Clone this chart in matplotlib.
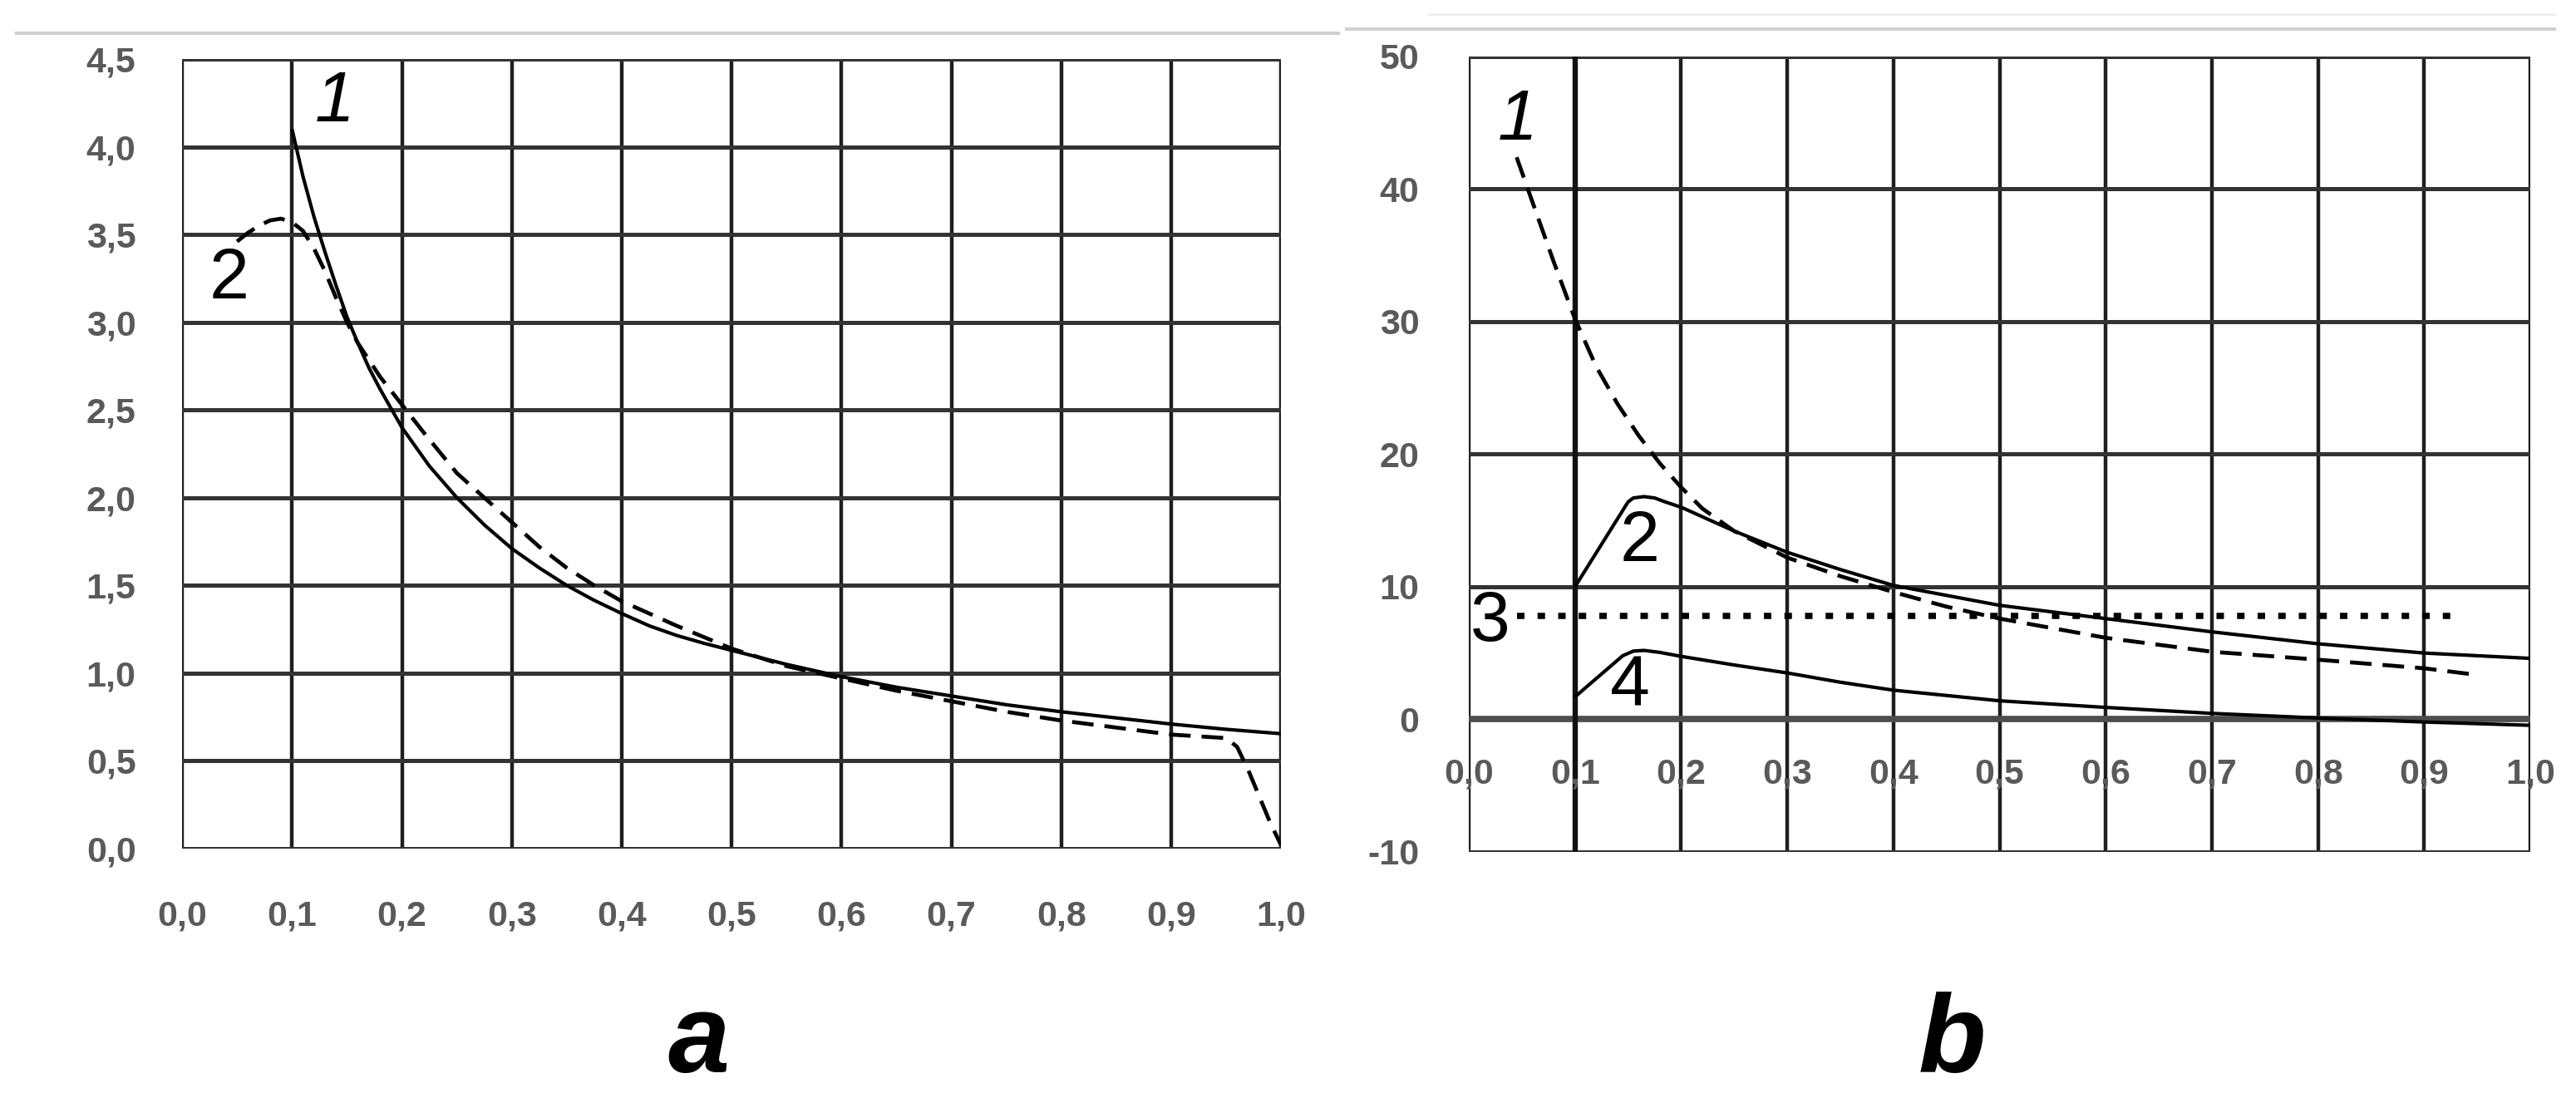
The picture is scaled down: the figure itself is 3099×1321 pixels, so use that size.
import matplotlib
matplotlib.use("Agg")
import matplotlib.pyplot as plt
from matplotlib.lines import Line2D
from matplotlib.transforms import offset_copy

plt.rcParams['font.family'] = ['Liberation Sans', 'DejaVu Sans']

# ---- panel a data ----
a_x_ticks = [0.0, 0.1, 0.2, 0.3, 0.4, 0.5, 0.6, 0.7, 0.8, 0.9, 1.0]
a_x_labels = ['0,0', '0,1', '0,2', '0,3', '0,4', '0,5', '0,6', '0,7', '0,8', '0,9', '1,0']
a_y_ticks = [0.0, 0.5, 1.0, 1.5, 2.0, 2.5, 3.0, 3.5, 4.0, 4.5]
a_y_labels = ['0,0', '0,5', '1,0', '1,5', '2,0', '2,5', '3,0', '3,5', '4,0', '4,5']

# curve 1 (solid)
a1_x = [0.10, 0.11, 0.12, 0.13, 0.14, 0.15, 0.16, 0.17, 0.18, 0.19, 0.20, 0.225,
        0.25, 0.275, 0.30, 0.325, 0.35, 0.375, 0.40, 0.425, 0.45, 0.475, 0.50,
        0.55, 0.60, 0.65, 0.70, 0.75, 0.80, 0.85, 0.90, 0.95, 1.00]
a1_y = [4.10, 3.83, 3.60, 3.40, 3.21, 3.03, 2.88, 2.74, 2.62, 2.51, 2.40, 2.18,
        2.00, 1.845, 1.71, 1.60, 1.50, 1.415, 1.34, 1.27, 1.215, 1.17, 1.13,
        1.05, 0.98, 0.92, 0.87, 0.82, 0.78, 0.745, 0.71, 0.68, 0.655]

# curve 2 (dashed)
a2_x = [0.05, 0.06, 0.07, 0.08, 0.09, 0.10, 0.11, 0.12, 0.13, 0.14, 0.15, 0.16,
        0.18, 0.20, 0.22, 0.25, 0.275, 0.30, 0.325, 0.35, 0.375, 0.40, 0.45, 0.50,
        0.55, 0.60, 0.65, 0.70, 0.75, 0.80, 0.85, 0.90, 0.95, 0.96, 0.97, 0.98,
        0.99, 1.00]
a2_y = [3.46, 3.51, 3.55, 3.58, 3.59, 3.57, 3.52, 3.42, 3.29, 3.14, 3.00, 2.88,
        2.69, 2.53, 2.37, 2.14, 2.00, 1.86, 1.72, 1.60, 1.50, 1.41, 1.27, 1.14,
        1.04, 0.97, 0.90, 0.84, 0.78, 0.73, 0.69, 0.65, 0.63, 0.58, 0.45, 0.30,
        0.15, 0.02]

# ---- panel b data ----
b_x_ticks = a_x_ticks
b_x_labels = a_x_labels
b_y_ticks = [-10, 0, 10, 20, 30, 40, 50]
b_y_labels = ['-10', '0', '10', '20', '30', '40', '50']

b1_x = [0.045, 0.06, 0.08, 0.10, 0.12, 0.14, 0.16, 0.18, 0.20, 0.22, 0.25, 0.30,
        0.35, 0.40, 0.45, 0.50, 0.60, 0.70, 0.80, 0.90, 0.945]
b1_y = [42.4, 39.0, 34.5, 30.2, 26.6, 23.8, 21.4, 19.3, 17.5, 15.9, 14.2, 12.2,
        10.8, 9.6, 8.5, 7.6, 6.15, 5.1, 4.5, 3.85, 3.4]

b2_x = [0.10, 0.15, 0.155, 0.165, 0.175, 0.185, 0.20, 0.25, 0.30, 0.35, 0.40,
        0.50, 0.60, 0.70, 0.80, 0.90, 1.00]
b2_y = [10.0, 16.4, 16.7, 16.8, 16.7, 16.4, 16.0, 14.2, 12.6, 11.3, 10.1,
        8.6, 7.6, 6.6, 5.7, 5.0, 4.6]

b3_x = [0.045, 0.935]
b3_y = [7.8, 7.8]

b4_x = [0.10, 0.145, 0.155, 0.165, 0.18, 0.20, 0.25, 0.30, 0.35, 0.40, 0.50,
        0.60, 0.70, 0.80, 0.90, 1.00]
b4_y = [1.7, 4.8, 5.15, 5.2, 5.05, 4.75, 4.1, 3.5, 2.8, 2.2, 1.4,
        0.9, 0.45, 0.1, -0.2, -0.45]

# curve labels: (text, x, y, italic)
a_labels = [('1', 0.139, 4.25, True), ('2', 0.043, 3.24, False)]
b_labels = [('1', 0.046, 45.1, True), ('2', 0.161, 13.3, False),
            ('3', 0.020, 7.3, False), ('4', 0.152, 2.45, False)]

tick_color = '#5a5a5a'
tick_size = 31
label_size = 62
solid_kw = dict(color='black', lw=3.0, solid_capstyle='butt')
dash_kw = dict(color='black', lw=3.4, linestyle=(0, (5.5, 2.8)), dash_capstyle='butt')
dot_kw = dict(color='black', lw=5.4, linestyle=(0, (1.2, 2.1)), dash_capstyle='butt')

fig = plt.figure(figsize=(30.99, 13.21), dpi=100)
axa = fig.add_axes([0.0707, 0.2271, 0.4266, 0.7192])
axb = fig.add_axes([0.5702, 0.2241, 0.4121, 0.7245])


def style_grid(ax):
    ax.set_axisbelow(True)
    ax.grid(axis='x', color='#1e1e1e', lw=3.2)
    ax.grid(axis='y', color='#333333', lw=3.6)
    for s in ax.spines.values():
        s.set_visible(False)
    ax.tick_params(length=0, labelsize=tick_size, labelcolor=tick_color)
    for lab in ax.get_xticklabels() + ax.get_yticklabels():
        lab.set_fontweight('bold')


# panel a
axa.plot(a1_x, a1_y, **solid_kw)
axa.plot(a2_x, a2_y, **dash_kw)
axa.set_xlim(0, 1)
axa.set_ylim(0, 4.5)
axa.set_xticks(a_x_ticks, a_x_labels)
axa.set_yticks(a_y_ticks, a_y_labels)
style_grid(axa)
axa.tick_params(axis='x', pad=44)
axa.tick_params(axis='y', pad=40)
for t, x, y, it in a_labels:
    axa.text(x, y, t, fontsize=label_size, ha='center', va='center',
             style='italic' if it else 'normal')

# panel b
axb.plot(b1_x, b1_y, **dash_kw)
axb.plot(b2_x, b2_y, **solid_kw)
axb.plot(b3_x, b3_y, **dot_kw)
axb.plot(b4_x, b4_y, **solid_kw)
axb.set_xlim(0, 1)
axb.set_ylim(-10, 50)
axb.set_xticks(b_x_ticks, [''] * len(b_x_ticks))
axb.set_yticks(b_y_ticks, b_y_labels)
style_grid(axb)
axb.axhline(0, color='#4d4d4d', lw=5.5, zorder=1.5)
axb.axvline(0.1, color='#111111', lw=4.6, zorder=1.5)
axb.tick_params(axis='y', pad=43)
# x labels sit just under the zero line, drawn above the grid
lab_tr = offset_copy(axb.transData, fig=fig, x=0, y=-33, units='points')
for x, lab in zip(b_x_ticks, b_x_labels):
    axb.text(x, 0, lab, transform=lab_tr, ha='center', va='top',
             fontsize=tick_size, fontweight='bold', color=tick_color, zorder=5)
for t, x, y, it in b_labels:
    axb.text(x, y, t, fontsize=label_size, ha='center', va='center',
             style='italic' if it else 'normal')

# panel letters
fig.text(840 / 3099, 1 - 1290 / 1321, 'a', fontsize=96, fontweight='bold',
         style='italic', ha='center', va='baseline')
fig.text(2348 / 3099, 1 - 1290 / 1321, 'b', fontsize=96, fontweight='bold',
         style='italic', ha='center', va='baseline')

# faint rules at the top of each panel
fig.add_artist(Line2D([20 / 3099, 1610 / 3099], [1 - 40 / 1321] * 2,
                      color='#d0d0d0', lw=3))
fig.add_artist(Line2D([1620 / 3099, 3073 / 3099], [1 - 35 / 1321] * 2,
                      color='#d0d0d0', lw=3))
fig.add_artist(Line2D([1719 / 3099, 3073 / 3099], [1 - 17 / 1321] * 2,
                      color='#efefef', lw=2))

fig.savefig('out.png', dpi=100, facecolor='white')
